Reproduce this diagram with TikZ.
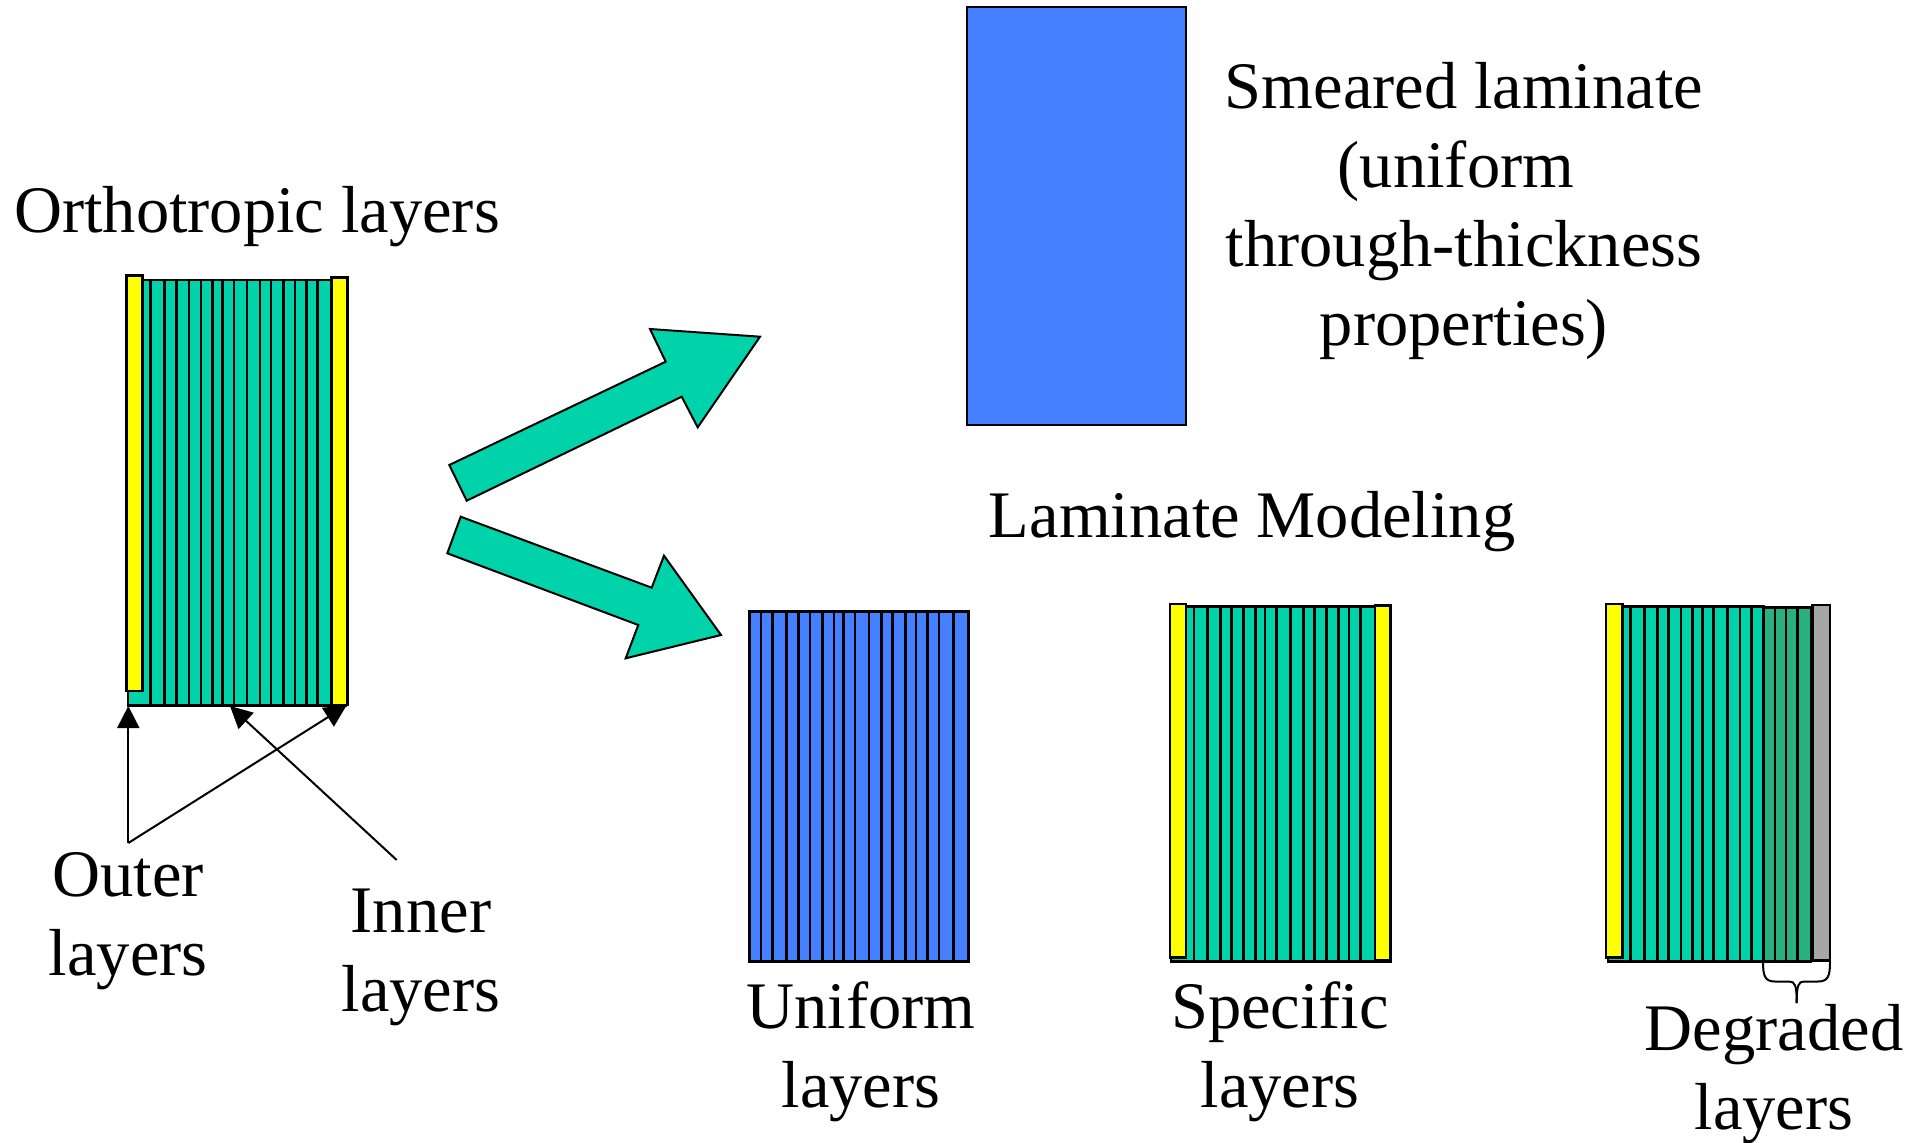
\documentclass[tikz,border=0pt]{standalone}
\usepackage{fontspec}
\setmainfont{Liberation Serif}
\usetikzlibrary{arrows.meta}
\definecolor{cTeal}{RGB}{0,210,170}
\definecolor{cBlue}{RGB}{68,128,255}
\definecolor{cYellow}{RGB}{255,255,0}
\definecolor{cDeg}{RGB}{42,176,128}
\definecolor{cGrey}{RGB}{166,166,166}
% line strut: 56pt above the baseline, 23pt below
\newcommand\lstrut{\rule[-23pt]{0pt}{79pt}}
\begin{document}
\begin{tikzpicture}[x=1pt,y=-1pt,
  plybox/.style={draw=black, line width=2.5pt},
  plyline/.style={draw=black, line width=2.5pt},
  lbl/.style={font=\fontsize{66.5}{79}\selectfont, inner sep=0pt, align=center},
  ptr/.style={line width=2pt, -{Triangle[length=22pt,width=22pt]}},
  bigarrow/.style={fill=cTeal, draw=black, line width=2pt, line join=miter}]
\useasboundingbox (0,0) rectangle (1925,1143);

% ---------- orthotropic laminate (left) ----------
\draw[plybox, fill=cTeal] (128,280) rectangle (346,705.5);
\foreach \x in {150.7,164.3,176.7,189,201,212.3,222.7,234,247,260,271,283.3,295,306.7,317.7}
  \draw[plyline] (\x,280) -- (\x,705.5);
\draw[plybox, fill=cYellow] (126.7,275.7) rectangle (142.3,691);
\draw[plybox, fill=cYellow] (331.7,277.7) rectangle (347.7,705);

\node[lbl, anchor=base] (ortho) at (257,232) {Orthotropic layers};

% pointer lines to outer and inner plies
\coordinate (ovx)  at (128.3,843);
\coordinate (outA) at (128.3,706);
\coordinate (outB) at (346.5,705.5);
\coordinate (inT)  at (396.7,860);
\coordinate (inA)  at (230,706);
\draw[ptr] (ovx) -- (outA);
\draw[ptr] (ovx) -- (outB);
\draw[ptr] (inT) -- (inA);

\node[lbl, anchor=north] (outer) at (128.3,840) {\lstrut Outer\\\lstrut layers};
\node[lbl, anchor=north] (inner) at (421,876) {\lstrut Inner\\\lstrut layers};

% ---------- block arrows ----------
\draw[bigarrow] (466.7,500.7) -- (449.3,465) -- (665.7,361.7) -- (650,329)
  -- (760,336.7) -- (697.7,427.3) -- (681.7,396.7) -- cycle;
\draw[bigarrow] (460.7,516.7) -- (651.7,587.7) -- (664,555.7) -- (721,635)
  -- (625.7,658.3) -- (638.3,625) -- (447.3,553.3) -- cycle;

% ---------- smeared laminate ----------
\draw[draw=black, line width=2pt, fill=cBlue] (967.4,7.4) rectangle (1186,424.8);
\node[lbl, anchor=north] (smeared) at (1464,52)
  {\lstrut Smeared laminate\\\lstrut (uniform\kern16pt\\\lstrut through-thickness\\\lstrut properties)};

\node[lbl, anchor=base] (model) at (1252,537) {Laminate Modeling};

% ---------- uniform layers ----------
\draw[plybox, fill=cBlue] (749.3,611.7) rectangle (968.7,961.7);
\foreach \x in {761,772.3,786.3,798.7,810,822.3,834,843.3,855,869,881.7,892.7,905.7,916,927.7,939,953.3}
  \draw[plyline] (\x,611.7) -- (\x,961.7);
\node[lbl, anchor=north] (uniform) at (861,972) {\lstrut Uniform\\\lstrut layers};

% ---------- specific layers ----------
\draw[plybox, fill=cTeal] (1171,606.7) rectangle (1390.7,961.7);
\foreach \x in {1194,1207.7,1220.3,1231.7,1243.7,1255.7,1265,1276.7,1290.7,1303.3,1314.3,1326.7,1338.3,1349,1360.7}
  \draw[plyline] (\x,606.7) -- (\x,961.7);
\draw[plybox, fill=cYellow] (1170,604) rectangle (1186,957.7);
\draw[plybox, fill=cYellow] (1375,605.3) rectangle (1390.7,960.7);
\node[lbl, anchor=north] (specific) at (1280,972) {\lstrut Specific\\\lstrut layers};

% ---------- degraded layers ----------
\draw[plybox, fill=cTeal] (1608,606.7) rectangle (1763.3,961.7);
\foreach \x in {1630.7,1644.3,1657.7,1668.3,1681,1692.3,1702.3,1713.3,1727.3,1740,1751.7}
  \draw[plyline] (\x,606.7) -- (\x,961.7);
\draw[plybox, fill=cDeg] (1763.3,607.5) rectangle (1811,961.7);
\foreach \x in {1775,1786,1797.7}
  \draw[plyline] (\x,607.5) -- (\x,961.7);
\draw[plybox, fill=cYellow] (1606,604) rectangle (1622.3,957.3);
\draw[plybox, fill=cGrey] (1812.5,605) rectangle (1830,960.7);

% brace under the degraded plies
\draw[line width=2pt] (1763,962) .. controls (1763,976) and (1765,981.5) .. (1775,981.5)
  -- (1789,981.5) .. controls (1795,981.5) and (1796.7,985) .. (1796.7,1003);
\draw[line width=2pt] (1830,962) .. controls (1830,976) and (1828,981.5) .. (1818,981.5)
  -- (1804,981.5) .. controls (1798.5,981.5) and (1796.7,985) .. (1796.7,1003);
\node[lbl, anchor=north] (degraded) at (1774,994) {\lstrut Degraded\\\lstrut layers};
\end{tikzpicture}
\end{document}
